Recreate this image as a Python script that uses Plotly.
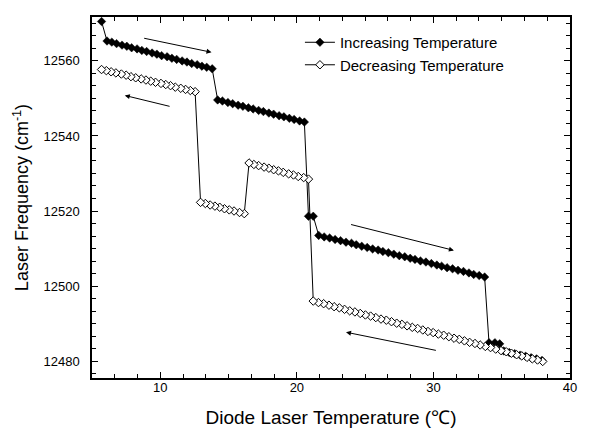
import plotly.graph_objects as go

# Increasing temperature scan (filled diamonds): temperature in deg C, frequency in cm^-1
inc_temp = [5.7,
            6.1, 6.45, 6.8, 7.2, 7.55, 7.9, 8.3, 8.65, 9.0, 9.4, 9.75, 10.1, 10.5, 10.85,
            11.2, 11.6, 11.95, 12.3, 12.7, 13.05, 13.4, 13.8,
            14.2, 14.55, 14.95, 15.3, 15.7, 16.05, 16.45, 16.8, 17.2, 17.55, 17.95, 18.3,
            18.7, 19.05, 19.45, 19.8, 20.2, 20.55,
            20.85, 21.2,
            21.6, 22.0, 22.4, 22.8, 23.2, 23.6, 24.0, 24.35, 24.75, 25.15, 25.55, 25.95,
            26.3, 26.7, 27.1, 27.5, 27.9, 28.3, 28.65, 29.05, 29.45, 29.85, 30.25, 30.6,
            31.0, 31.4, 31.8, 32.2, 32.6, 32.95, 33.35, 33.75,
            34.07, 34.5, 34.85,
            35.15, 35.55, 35.95, 36.35, 36.75, 37.15, 37.55, 37.95]
inc_freq = [12570.5,
            12565.3, 12565.0, 12564.6, 12564.2, 12563.9, 12563.5, 12563.2, 12562.8, 12562.5,
            12562.1, 12561.8, 12561.4, 12561.1, 12560.7, 12560.4, 12560.0, 12559.7, 12559.3,
            12559.0, 12558.6, 12558.3, 12557.9,
            12549.6, 12549.3, 12548.9, 12548.6, 12548.2, 12547.9, 12547.5, 12547.2, 12546.8,
            12546.5, 12546.1, 12545.8, 12545.4, 12545.1, 12544.7, 12544.4, 12544.0, 12543.7,
            12518.6, 12518.6,
            12513.5, 12513.1, 12512.8, 12512.4, 12512.1, 12511.7, 12511.4, 12511.0, 12510.6,
            12510.3, 12509.9, 12509.6, 12509.2, 12508.9, 12508.5, 12508.1, 12507.8, 12507.4,
            12507.1, 12506.7, 12506.4, 12506.0, 12505.6, 12505.3, 12504.9, 12504.6, 12504.2,
            12503.9, 12503.5, 12503.1, 12502.8, 12502.4,
            12484.9, 12484.9, 12484.6,
            12482.7, 12482.3, 12482.0, 12481.6, 12481.3, 12480.9, 12480.6, 12480.2]

# Decreasing temperature scan (open diamonds), listed in scan order (hot to cold)
dec_temp = [38.0, 37.62, 37.24, 36.85, 36.47, 36.09, 35.71, 35.33, 34.95, 34.56, 34.18,
            33.8, 33.42, 33.04, 32.65, 32.27, 31.89, 31.51, 31.13, 30.75, 30.36, 29.98,
            29.6, 29.22, 28.84, 28.45, 28.07, 27.69, 27.31, 26.93, 26.55, 26.16, 25.78,
            25.4, 25.02, 24.64, 24.25, 23.87, 23.49, 23.11, 22.73, 22.35, 21.96, 21.58, 21.2,
            20.85, 20.5, 20.1, 19.75, 19.4, 19.0, 18.65, 18.3, 17.95, 17.6, 17.2, 16.85, 16.5,
            16.15, 15.8, 15.4, 15.05, 14.7, 14.35, 14.0, 13.65, 13.3, 12.95,
            12.55, 12.2, 11.85, 11.5, 11.1, 10.75, 10.4, 10.05, 9.65, 9.3, 8.95, 8.6, 8.2,
            7.85, 7.5, 7.15, 6.75, 6.4, 6.05, 5.7]
dec_freq = [12479.9, 12480.3, 12480.6, 12481.0, 12481.4, 12481.7, 12482.1, 12482.5, 12482.8,
            12483.2, 12483.6, 12483.9, 12484.3, 12484.7, 12485.0, 12485.4, 12485.8, 12486.1,
            12486.5, 12486.9, 12487.2, 12487.6, 12487.9, 12488.3, 12488.7, 12489.0, 12489.4,
            12489.8, 12490.1, 12490.5, 12490.9, 12491.2, 12491.6, 12492.0, 12492.3, 12492.7,
            12493.1, 12493.4, 12493.8, 12494.2, 12494.5, 12494.9, 12495.3, 12495.6, 12496.0,
            12528.5, 12528.9, 12529.2, 12529.6, 12529.9, 12530.3, 12530.7, 12531.0, 12531.4,
            12531.7, 12532.1, 12532.4, 12532.8,
            12519.3, 12519.6, 12520.0, 12520.3, 12520.6, 12521.0, 12521.3, 12521.6, 12522.0,
            12522.3,
            12551.8, 12552.1, 12552.4, 12552.7, 12553.0, 12553.4, 12553.7, 12554.0, 12554.3,
            12554.6, 12554.9, 12555.2, 12555.5, 12555.8, 12556.2, 12556.5, 12556.8, 12557.1,
            12557.4, 12557.7]

# Scan-direction arrows: (tail_x, tail_y, head_x, head_y) in data units
arrows = [
    (8.6, 12566.2, 13.75, 12562.3),
    (10.9, 12547.7, 7.4, 12550.8),
    (23.75, 12516.6, 31.5, 12509.5),
    (30.4, 12482.7, 23.6, 12487.7),
]

x_range = [5, 40]
y_range = [12475.5, 12571.7]
x_ticks = [10, 20, 30, 40]
y_ticks = [12480, 12500, 12520, 12540, 12560]

FONT = "Liberation Sans, Arial, Helvetica, sans-serif"

fig = go.Figure()
fig.add_trace(go.Scatter(
    x=inc_temp, y=inc_freq, mode="lines+markers", name="Increasing Temperature",
    line=dict(color="black", width=1),
    marker=dict(symbol="diamond", size=6.5, color="black", line=dict(color="black", width=0.5)),
))
fig.add_trace(go.Scatter(
    x=dec_temp, y=dec_freq, mode="lines+markers", name="Decreasing Temperature",
    line=dict(color="black", width=1),
    marker=dict(symbol="diamond", size=6.5, color="white", line=dict(color="black", width=1)),
))

for tx, ty, hx, hy in arrows:
    fig.add_annotation(
        x=hx, y=hy, ax=tx, ay=ty, xref="x", yref="y", axref="x", ayref="y",
        showarrow=True, arrowhead=2, arrowsize=1, arrowwidth=1, arrowcolor="black",
    )

axis_common = dict(
    showline=True, linecolor="black", linewidth=1.5, mirror="ticks",
    ticks="inside", ticklen=6, tickwidth=1.2, tickcolor="black",
    showgrid=False, zeroline=False,
    tickfont=dict(family=FONT, size=13, color="black"),
)

fig.update_xaxes(
    range=x_range, tickvals=x_ticks, ticktext=[str(v) for v in x_ticks],
    minor=dict(ticks="inside", ticklen=4, tickwidth=1, tickcolor="black", dtick=10 / 6, tick0=0),
    title=dict(text="Diode Laser Temperature (\u2103)", font=dict(family=FONT, size=19, color="black"),
               standoff=16),
    ticklabelstandoff=-3,
    **axis_common,
)
fig.update_yaxes(
    range=y_range, tickvals=y_ticks, ticktext=[str(v) for v in y_ticks],
    minor=dict(ticks="inside", ticklen=4, tickwidth=1, tickcolor="black", dtick=20 / 6, tick0=12480),
    title=dict(text="Laser Frequency (cm<sup>-1</sup>)", font=dict(family=FONT, size=18, color="black"),
               standoff=10),
    ticklabelstandoff=8,
    **axis_common,
)

fig.update_layout(
    width=589, height=437,
    margin=dict(l=92, r=16, t=17, b=58),
    paper_bgcolor="white", plot_bgcolor="white",
    showlegend=True,
    legend=dict(
        x=0.435, y=0.975, xanchor="left", yanchor="top",
        bgcolor="rgba(0,0,0,0)", borderwidth=0,
        font=dict(family=FONT, size=15, color="black"),
        tracegroupgap=0,
    ),
)

fig.write_html("out.html")
